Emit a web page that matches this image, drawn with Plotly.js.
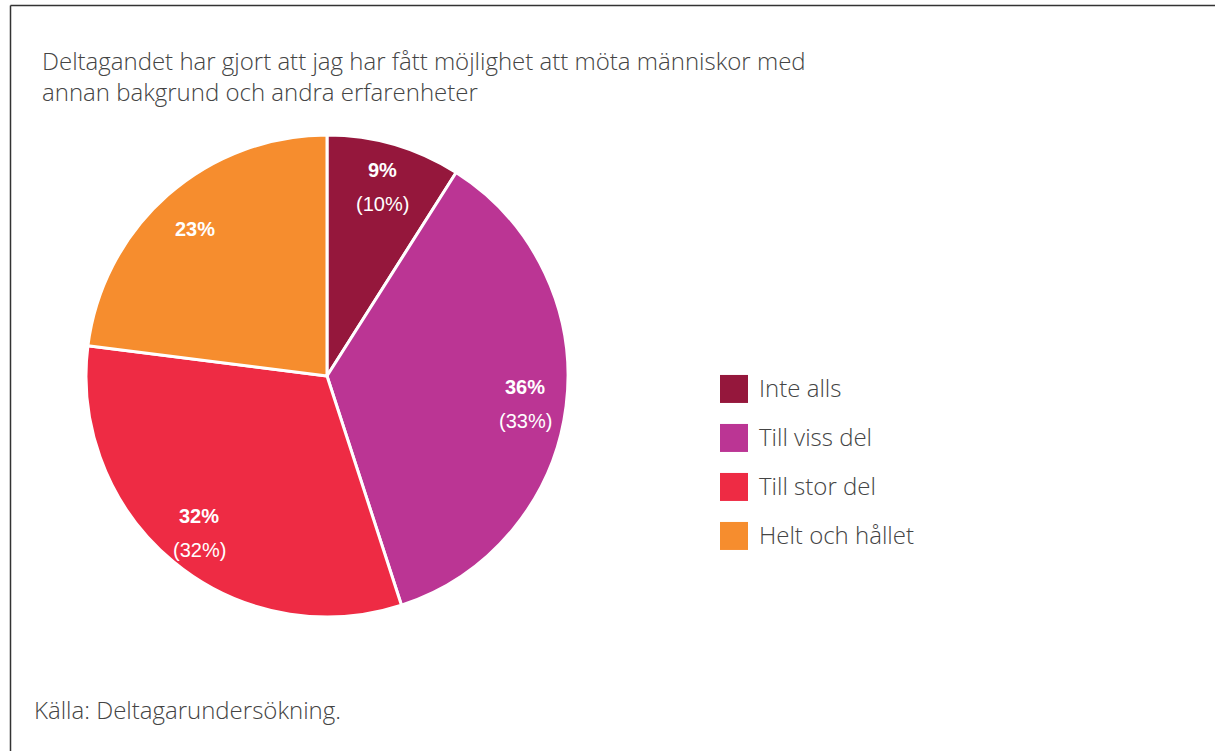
<!DOCTYPE html>
<html><head><meta charset="utf-8">
<script src="https://cdn.plot.ly/plotly-3.0.1.min.js"></script>
<style>html,body{margin:0;padding:0;background:#fff;}#chart{width:1215px;height:751px;}</style>
</head><body><div id="chart"></div>
<script>
const categories = ["Inte alls", "Till viss del", "Till stor del", "Helt och hållet"];
const values = [9, 36, 32, 23];
const previous = ["(10%)", "(33%)", "(32%)", ""];
const colors = ["#95173c", "#bb3594", "#ee2b44", "#f68d2e"];
const titleText = "Deltagandet har gjort att jag har fått möjlighet att möta människor med<br>annan bakgrund och andra erfarenheter";
const sourceText = "Källa: Deltagarundersökning.";

const W = 1215, H = 751;
const TEXT_FONT = "Open Sans, Noto Sans, sans-serif";
const LABEL_FONT = "Liberation Sans, Arial, sans-serif";

// pie geometry (pixels)
const pieX = [86, 568], pieY = [135, 617];
const cx = (pieX[0] + pieX[1]) / 2, cy = (pieY[0] + pieY[1]) / 2;
const R = (pieX[1] - pieX[0]) / 2;

const trace = {
  type: "pie",
  labels: categories,
  values: values,
  sort: false,
  direction: "clockwise",
  rotation: 0,
  textinfo: "none",
  marker: {colors: colors, line: {color: "#ffffff", width: 3}},
  domain: {x: [pieX[0] / W, pieX[1] / W], y: [1 - pieY[1] / H, 1 - pieY[0] / H]},
  hoverinfo: "label+percent"
};

// slice labels placed at the mid-angle of each slice, derived from the values
const total = values.reduce((a, b) => a + b, 0);
const labelAnns = [];
let cum = 0;
values.forEach(function (v, i) {
  const mid = (cum + v / 2) / total * 2 * Math.PI;
  cum += v;
  const px = cx + 0.83 * R * Math.sin(mid);
  const py = cy - 0.83 * R * Math.cos(mid) + 3;
  const two = !!previous[i];
  labelAnns.push({
    text: "<b>" + v + "%</b>", xref: "paper", yref: "paper",
    x: px / W, y: 1 - (two ? py - 17 : py) / H, xanchor: "center", yanchor: "middle", showarrow: false,
    font: {family: LABEL_FONT, size: 20, color: "#ffffff"}
  });
  if (two) labelAnns.push({
    text: previous[i], xref: "paper", yref: "paper",
    x: px / W, y: 1 - (py + 17) / H, xanchor: "center", yanchor: "middle", showarrow: false,
    font: {family: LABEL_FONT, size: 20, color: "#ffffff"}
  });
});

const layout = {
  width: W, height: H,
  margin: {l: 0, r: 0, t: 0, b: 0},
  paper_bgcolor: "#ffffff",
  font: {family: TEXT_FONT, color: "#444444"},
  showlegend: true,
  legend: {
    x: 719 / W, y: 1 - 366 / H, xanchor: "left", yanchor: "top",
    font: {size: 24, color: "#444444", family: TEXT_FONT, weight: 300},
    traceorder: "normal"
  },
  shapes: [
    {type: "line", xref: "paper", yref: "paper", x0: 10.5 / W, x1: 10.5 / W, y0: 0, y1: 1 - 5.5 / H, line: {color: "#333", width: 1.5}},
    {type: "line", xref: "paper", yref: "paper", x0: 10.5 / W, x1: 1, y0: 1 - 5.5 / H, y1: 1 - 5.5 / H, line: {color: "#333", width: 1.5}}
  ],
  annotations: [
    {text: titleText, xref: "paper", yref: "paper", x: 40 / W, y: 1 - 42 / H, xanchor: "left", yanchor: "top", align: "left", showarrow: false,
     font: {size: 24, color: "#444444", family: TEXT_FONT, weight: 300}},
    {text: sourceText, xref: "paper", yref: "paper", x: 32 / W, y: 1 - 709 / H, xanchor: "left", yanchor: "middle", showarrow: false,
     font: {size: 24, color: "#444444", family: TEXT_FONT, weight: 300}}
  ].concat(labelAnns)
};

Plotly.newPlot("chart", [trace], layout, {displayModeBar: false, staticPlot: true}).then(function (gd) {
  const leg = gd.querySelector(".legend");
  if (!leg) return;
  leg.querySelectorAll("[clip-path]").forEach(function (el) { el.removeAttribute("clip-path"); });
  const entries = leg.querySelectorAll(".traces");
  let x0 = 0, y0 = 0;
  entries.forEach(function (g, i) {
    const m = /translate\(\s*([-\d.]+)[ ,]+([-\d.]+)\s*\)/.exec(g.getAttribute("transform") || "");
    const tx = m ? parseFloat(m[1]) : 0, ty = m ? parseFloat(m[2]) : 0;
    if (i === 0) { x0 = tx; y0 = ty; }
    g.setAttribute("transform", "translate(" + x0 + "," + (y0 + i * 49) + ")");
  });
  entries.forEach(function (g) {
    const txt = g.querySelector("text");
    const p = g.querySelector(".legendpoints path");
    if (!txt || !p) return;
    const tb = txt.getBoundingClientRect();
    const pb = p.getBoundingClientRect();
    const pcx = pb.left + pb.width / 2;
    const pcy = pb.top + pb.height / 2;
    const l = tb.left - 39 - pcx, r = tb.left - 11 - pcx;
    const tcy = tb.top + tb.height / 2 + 1;
    const t = tcy - 14 - pcy, b = tcy + 14 - pcy;
    p.setAttribute("d", "M" + r + "," + b + "H" + l + "V" + t + "H" + r + "Z");
    p.style.strokeWidth = "0";
  });
});
</script></body></html>
